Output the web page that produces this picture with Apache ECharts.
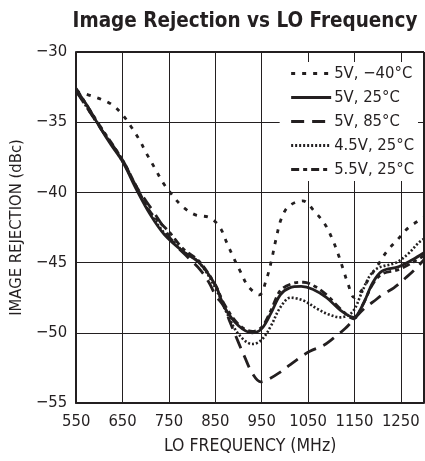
<!DOCTYPE html>
<html>
<head>
<meta charset="utf-8">
<script src="https://cdn.jsdelivr.net/npm/echarts@6/dist/echarts.min.js"></script>
<style>
html,body{margin:0;padding:0;background:#fff;}
#c{width:425px;height:461px;}
</style>
</head>
<body>
<div id="c"></div>
<script>
const seriesNames = ['5V, \u221240\u00B0C', '5V, 25\u00B0C', '5V, 85\u00B0C', '4.5V, 25\u00B0C', '5.5V, 25\u00B0C'];

const m40Freq = [550,590,625,648,668,687,701,720,737,755,779,807,838,860,875,890,905,921,945,960,970,981,992,1008,1038,1065,1087,1102,1115,1125,1136,1150,1165,1182,1200,1220,1242,1267,1300];
const m40Val  = [-32.8,-33.2,-33.7,-34.4,-35.3,-36.3,-37.2,-38.3,-39.3,-40.1,-41.0,-41.6,-41.8,-42.5,-43.6,-44.7,-45.7,-46.7,-47.3,-46.2,-45.0,-43.3,-41.9,-41.0,-40.6,-41.4,-42.3,-43.3,-44.4,-45.4,-46.5,-47.5,-47.0,-46.1,-45.2,-44.2,-43.4,-42.5,-41.8];

const n25Freq = [550,575,600,625,650,680,710,740,780,815,850,870,900,930,950,970,990,1010,1035,1060,1090,1120,1148,1168,1190,1210,1245,1275,1300];
const n25Val  = [-32.7,-33.9,-35.3,-36.6,-37.8,-39.8,-41.6,-43.0,-44.2,-45.0,-46.6,-48.2,-49.5,-50.0,-49.7,-48.6,-47.3,-46.8,-46.7,-46.9,-47.5,-48.4,-48.9,-48.0,-46.4,-45.6,-45.3,-44.8,-44.3];

const p85Freq = [550,600,650,680,715,735,760,790,817,836,850,870,880,900,913,930,948,965,990,1010,1035,1055,1083,1104,1130,1150,1170,1190,1214,1235,1260,1280,1300];
const p85Val  = [-32.8,-35.3,-37.7,-39.6,-41.3,-42.3,-43.6,-44.6,-45.5,-46.4,-47.3,-48.2,-49.1,-50.7,-51.7,-52.9,-53.5,-53.3,-52.8,-52.3,-51.7,-51.3,-50.9,-50.4,-49.7,-49.0,-48.3,-47.8,-47.2,-46.8,-46.1,-45.5,-44.8];

const v45Freq = [550,600,650,680,710,740,760,780,815,850,875,900,930,950,970,990,1012,1040,1070,1095,1120,1146,1165,1182,1200,1240,1265,1288,1300];
const v45Val  = [-32.8,-35.3,-37.8,-39.7,-41.5,-42.9,-43.5,-44.2,-45.0,-46.8,-48.6,-50.1,-50.8,-50.5,-49.5,-48.2,-47.5,-47.7,-48.3,-48.7,-48.9,-48.5,-47.2,-46.0,-45.4,-45.0,-44.4,-43.6,-43.3];

const v55Freq = [550,600,650,680,710,750,780,815,850,870,900,930,950,970,990,1015,1040,1065,1090,1120,1148,1168,1190,1210,1245,1275,1300];
const v55Val  = [-32.6,-35.2,-37.7,-39.6,-41.4,-42.8,-44.0,-44.9,-46.6,-48.0,-49.4,-49.9,-49.6,-48.4,-47.0,-46.5,-46.4,-46.7,-47.3,-48.3,-49.0,-48.0,-46.5,-45.8,-45.5,-45.0,-44.5];

const xTicks = [550,650,750,850,950,1050,1150,1250];
const yTicks = [-55,-50,-45,-40,-35,-30];

const FONT = "'Liberation Sans Narrow','DejaVu Sans Condensed','Roboto Condensed',sans-serif";
const INK = '#231f20';

function pairs(f, v){ return f.map((x,i)=>[x, v[i]]); }

const dashStyles = [
  {type:[4,7], width:2.8},
  {type:'solid', width:2.8},
  {type:[13,8], width:2.8},
  {type:[2,2], width:2.6},
  {type:[8,4,4,4], width:2.8}
];
const dataSets = [pairs(m40Freq,m40Val), pairs(n25Freq,n25Val), pairs(p85Freq,p85Val), pairs(v45Freq,v45Val), pairs(v55Freq,v55Val)];

const chart = echarts.init(document.getElementById('c'), null, {renderer:'canvas'});
chart.setOption({
  animation:false,
  backgroundColor:'#fff',
  title:{
    text:'Image Rejection vs LO Frequency',
    left:240, top:6, textAlign:'center',
    textStyle:{fontFamily:FONT, fontWeight:'bold', fontSize:20.5, color:INK}
  },
  legend:{
    orient:'vertical', right:7, top:62,
    itemWidth:40, itemHeight:12, itemGap:7,
    backgroundColor:'#fff', padding:[3,4,3,10],
    itemStyle:{opacity:0, borderWidth:0},
    lineStyle:{width:3},
    textStyle:{fontFamily:FONT, fontSize:16.5, color:INK, padding:[0,0,0,-2]},
    data: seriesNames
  },
  grid:{left:72, top:52, right:1, bottom:58, containLabel:false, show:false},
  xAxis:{
    type:'value', min:550, max:1300, interval:100,
    name:'LO FREQUENCY (MHz)', nameLocation:'middle', nameGap:34,
    nameTextStyle:{fontFamily:FONT, fontSize:17.5, color:INK},
    axisLine:{show:true, onZero:false, lineStyle:{color:INK, width:2}},
    axisTick:{show:false},
    axisLabel:{fontFamily:FONT, fontSize:16.5, color:INK, margin:10, showMaxLabel:false,
      formatter:(v)=> xTicks.indexOf(v)>=0 ? String(v) : ''},
    splitLine:{show:true, lineStyle:{color:INK, width:1}}
  },
  yAxis:{
    type:'value', min:-55, max:-30, interval:5,
    name:'IMAGE REJECTION (dBc)', nameLocation:'middle', nameGap:42,
    nameTextStyle:{fontFamily:FONT, fontSize:16.5, color:INK},
    axisLine:{show:true, onZero:false, lineStyle:{color:INK, width:2}},
    axisTick:{show:false},
    axisLabel:{fontFamily:FONT, fontSize:16.5, color:INK, margin:9,
      formatter:(v)=> yTicks.indexOf(v)>=0 ? String(v).replace('-', '\u2212') : ''},
    splitLine:{show:true, lineStyle:{color:INK, width:1}}
  },
  series: seriesNames.map((n,i)=>({
    name:n, type:'line', data:dataSets[i], smooth:0.35,
    symbol:'none', showSymbol:false,
    lineStyle:{color:INK, width:dashStyles[i].width, type:dashStyles[i].type},
    itemStyle:{color:INK},
    z: 5 - i
  })).concat([{
    type:'line', data:[], markLine:{silent:true, symbol:'none', label:{show:false},
      lineStyle:{color:INK, width:2, type:'solid'},
      data:[[{coord:[550,-30]},{coord:[1300,-30]}],[{coord:[1300,-30]},{coord:[1300,-55]}]]}
  }])
});
</script>
</body>
</html>
